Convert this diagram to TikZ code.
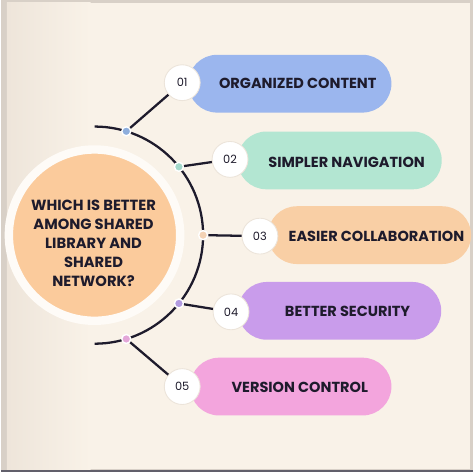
\documentclass[tikz,border=0pt]{standalone}
\usepackage{fontspec}
\setmainfont{Poppins}
\usetikzlibrary{calc}

\definecolor{ink}{HTML}{1E1B2C}
\definecolor{bgframe}{HTML}{D8D0C7}
\definecolor{bgcream}{HTML}{F9F2E8}
\definecolor{bgleft}{HTML}{EEE5DA}
\definecolor{hubpeach}{HTML}{FBCB9C}
\definecolor{ringwhite}{HTML}{FEFBF7}
\definecolor{numedge}{HTML}{ECE4DA}
\definecolor{pblue}{HTML}{9BB6EE}
\definecolor{pmint}{HTML}{B3E6D2}
\definecolor{ppeach}{HTML}{F9CFA5}
\definecolor{ppurple}{HTML}{C99CEB}
\definecolor{ppink}{HTML}{F3A5DD}
\definecolor{dblue}{HTML}{8EAEDC}
\definecolor{dmint}{HTML}{A3D8CA}
\definecolor{dpeach}{HTML}{F3D2B4}
\definecolor{dpurple}{HTML}{B29BE0}
\definecolor{dpink}{HTML}{E3A6D8}

\begin{document}
\begin{tikzpicture}[x=0.02cm,y=0.02cm,
  pill/.style={rounded corners=0.579cm, minimum height=1.16cm, inner sep=0pt},
  num/.style={circle, fill=white, draw=numedge, line width=0.5pt, minimum size=0.72cm,
    inner sep=0pt, text=ink, font=\fontsize{6.5}{7}\selectfont},
  lbl/.style={text=ink, font=\fontsize{8.3}{9}\selectfont\bfseries},
  dot/.style={circle, draw=white, line width=0.8pt, minimum size=0.18cm, inner sep=0pt},
  link/.style={draw=ink, line width=1.3pt}]
  % background and frame
  \fill[bgframe] (0,0) rectangle (474,474);
  \fill[bgcream] (6,3) rectangle (471,471);
  \shade[left color=bgleft, right color=bgcream] (6,3) rectangle (90,471);
  \draw[ink!70, line width=1pt] (0,1) -- (474,1);
  \useasboundingbox (0,0) rectangle (474,474);
  % central question
  \node[circle, fill=hubpeach, draw=ringwhite, line width=4.8pt, minimum size=3.44cm,
    inner sep=0pt] (hub) at (94,238) {};
  \node[align=center, text=ink, font=\fontsize{8.4}{10.8}\selectfont\bfseries]
    (question) at (93,230) {WHICH IS BETTER\\AMONG SHARED\\LIBRARY AND\\SHARED\\NETWORK?};
  % half ring
  \draw[link] ($(hub.center)+(90:2.18cm)$) arc[start angle=90, end angle=-90, radius=2.18cm];
  % pills
  \node[pill, fill=pblue, minimum width=4.08cm] (p1) at (290,390) {};
  \node[pill, fill=pmint, minimum width=4.1cm] (p2) at (340,313) {};
  \node[pill, fill=ppeach, minimum width=4.08cm] (p3) at (370,238) {};
  \node[pill, fill=ppurple, minimum width=4.08cm] (p4) at (340,162) {};
  \node[pill, fill=ppink, minimum width=4.04cm] (p5) at (291,86) {};
  % numbers
  \node[num] (n1) at (182,391) {01};
  \node[num] (n2) at (230,314) {02};
  \node[num] (n3) at (260,237) {03};
  \node[num] (n4) at (231,161) {04};
  \node[num] (n5) at (182,86) {05};
  % labels
  \node[lbl] (t1) at (298,390) {ORGANIZED CONTENT};
  \node[lbl] (t2) at (347,311) {SIMPLER NAVIGATION};
  \node[lbl] (t3) at (377,237) {EASIER COLLABORATION};
  \node[lbl] (t4) at (348,161) {BETTER SECURITY};
  \node[lbl] (t5) at (300,85) {VERSION CONTROL};
  % dots on the ring
  \node[dot, fill=dblue] (d1) at ($(hub.center)+(73:2.18cm)$) {};
  \node[dot, fill=dmint] (d2) at ($(hub.center)+(39:2.18cm)$) {};
  \node[dot, fill=dpeach] (d3) at ($(hub.center)+(0:2.18cm)$) {};
  \node[dot, fill=dpurple] (d4) at ($(hub.center)+(-39:2.18cm)$) {};
  \node[dot, fill=dpink] (d5) at ($(hub.center)+(-73:2.18cm)$) {};
  % connectors
  \draw[link] (d1) -- (n1);
  \draw[link] (d2) -- (n2);
  \draw[link] (d3) -- (n3);
  \draw[link] (d4) -- (n4);
  \draw[link] (d5) -- (n5);
\end{tikzpicture}
\end{document}
